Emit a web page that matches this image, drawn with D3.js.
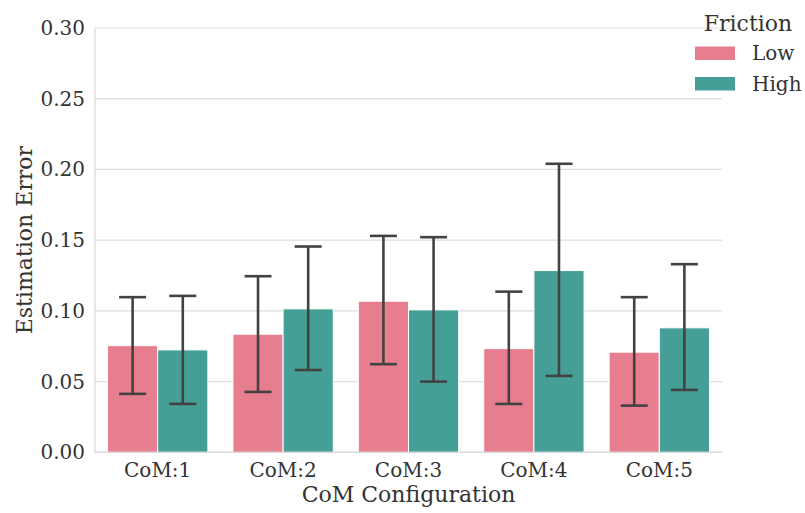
<!DOCTYPE html>
<html><head><meta charset="utf-8">
<script src="https://cdn.jsdelivr.net/npm/d3@7"></script>
<style>body{margin:0;background:#fff}svg text{font-family:"DejaVu Serif",serif;fill:#333}</style>
</head><body><svg id="c" width="805" height="513"></svg>
<script>
const categories = ["CoM:1","CoM:2","CoM:3","CoM:4","CoM:5"];
const series = ["Low","High"];
const lowMean  = [0.0754,0.0835,0.1068,0.0733,0.0708];
const lowLo    = [0.0413,0.0427,0.0623,0.0342,0.0330];
const lowHi    = [0.1097,0.1245,0.1530,0.1136,0.1097];
const highMean = [0.0724,0.1014,0.1007,0.1285,0.0880];
const highLo   = [0.0342,0.0582,0.0500,0.0540,0.0441];
const highHi   = [0.1106,0.1455,0.1521,0.2040,0.1330];
const yTicks = [0,0.05,0.10,0.15,0.20,0.25,0.30];
const colors = ["#e67e8f","#459f96"];

const svg = d3.select("#c");
const m = {l:95,r:722,t:28,b:452.3};
const x = d3.scaleBand().domain(categories).range([m.l,m.r]).paddingInner(0.2).paddingOuter(0.1);
const xs = d3.scaleBand().domain(series).range([0,x.bandwidth()]);
const y = d3.scaleLinear().domain([0,0.30]).range([m.b,m.t]);

// grid
svg.append("g").selectAll("line").data(yTicks).join("line")
 .attr("x1",m.l).attr("x2",m.r).attr("y1",d=>y(d)).attr("y2",d=>y(d))
 .attr("stroke","#dddddd").attr("stroke-width",1.2);

const data = [];
categories.forEach((c,i)=>{
  data.push({c,s:"Low",v:lowMean[i],lo:lowLo[i],hi:lowHi[i]});
  data.push({c,s:"High",v:highMean[i],lo:highLo[i],hi:highHi[i]});
});
svg.append("g").selectAll("rect").data(data).join("rect")
 .attr("x",d=>x(d.c)+xs(d.s)).attr("width",xs.bandwidth())
 .attr("y",d=>y(d.v)).attr("height",d=>y(0)-y(d.v))
 .attr("fill",d=>colors[series.indexOf(d.s)]).attr("stroke","#fff").attr("stroke-width",1);

const eb = svg.append("g").attr("stroke","#424242").attr("stroke-width",2.6);
data.forEach(d=>{
  const cx = x(d.c)+xs(d.s)+xs.bandwidth()/2;
  eb.append("line").attr("x1",cx).attr("x2",cx).attr("y1",y(d.lo)).attr("y2",y(d.hi));
  eb.append("line").attr("x1",cx-13.5).attr("x2",cx+13.5).attr("y1",y(d.lo)).attr("y2",y(d.lo));
  eb.append("line").attr("x1",cx-13.5).attr("x2",cx+13.5).attr("y1",y(d.hi)).attr("y2",y(d.hi));
});

// spines
svg.append("line").attr("x1",m.l).attr("x2",m.l).attr("y1",m.t).attr("y2",m.b).attr("stroke","#d8d8d8").attr("stroke-width",1.2);
svg.append("line").attr("x1",m.l).attr("x2",m.r).attr("y1",m.b).attr("y2",m.b).attr("stroke","#d8d8d8").attr("stroke-width",1.2);

// axes labels
svg.append("g").selectAll("text").data(yTicks).join("text")
 .attr("x",85).attr("y",d=>y(d)).attr("dy","0.35em").attr("text-anchor","end")
 .attr("font-size",20).text(d=>d.toFixed(2));
svg.append("g").selectAll("text").data(categories).join("text")
 .attr("x",d=>x(d)+x.bandwidth()/2).attr("y",477).attr("text-anchor","middle")
 .attr("font-size",20).text(d=>d);
svg.append("text").attr("x",(m.l+m.r)/2).attr("y",502).attr("text-anchor","middle")
 .attr("font-size",22).text("CoM Configuration");
svg.append("text").attr("transform",`translate(32,${(m.t+m.b)/2}) rotate(-90)`)
 .attr("text-anchor","middle").attr("font-size",22).text("Estimation Error");

// legend
const lg = svg.append("g");
lg.append("text").attr("x",748).attr("y",30.5).attr("text-anchor","middle").attr("font-size",22).text("Friction");
series.forEach((s,i)=>{
  lg.append("rect").attr("x",695).attr("y",46.5+i*30.5).attr("width",40).attr("height",13.5).attr("fill",colors[i]);
  lg.append("text").attr("x",752).attr("y",60+i*30.5).attr("font-size",20).text(s);
});
</script></body></html>
